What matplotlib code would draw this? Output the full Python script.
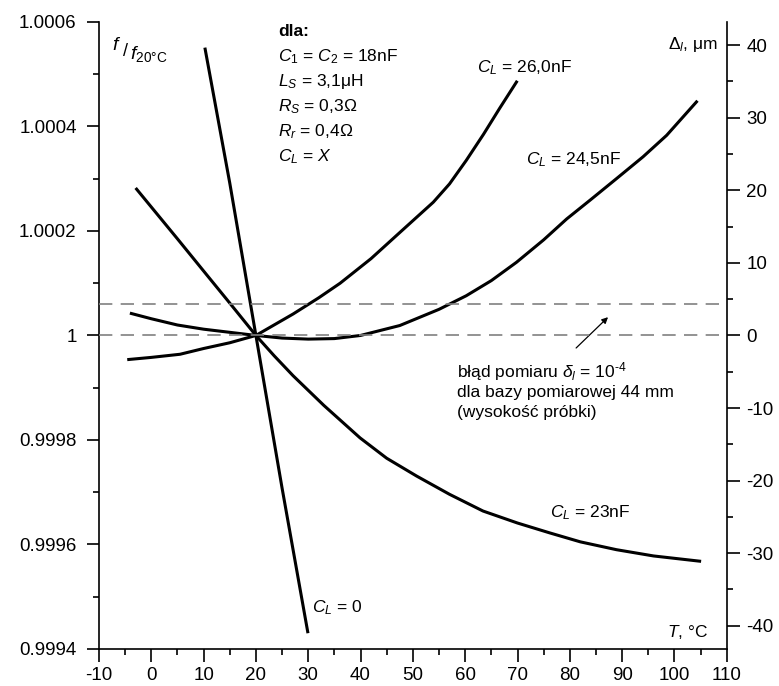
import numpy as np
import matplotlib
matplotlib.use("Agg")
import matplotlib.pyplot as plt
from matplotlib.ticker import FixedLocator, FixedFormatter, MultipleLocator

plt.rcParams['font.family'] = ['Liberation Sans', 'DejaVu Sans']
plt.rcParams['mathtext.fontset'] = 'custom'
plt.rcParams['mathtext.rm'] = 'Liberation Sans'
plt.rcParams['mathtext.it'] = 'Liberation Sans:italic'
plt.rcParams['mathtext.bf'] = 'Liberation Sans:bold'
plt.rcParams['axes.unicode_minus'] = False

# T [°C], f/f20°C
T_c0 = [10.3, 15.0, 20.0, 25.0, 29.9]
f_c0 = [1.000548, 1.000292, 1.0, 0.999708, 0.999433]

T_c23 = [-2.8, 5.0, 10.6, 15.0, 20.0, 23.5, 27.1, 33.0, 39.9, 45.0, 50.7, 57.0, 63.4,
         70.0, 76.2, 82.0, 88.9, 96.0, 104.8]
f_c23 = [1.00028, 1.000185, 1.000116, 1.000062, 1.0, 0.999961, 0.999923, 0.999866,
         0.999804, 0.999765, 0.999731, 0.999696, 0.999664, 0.999641, 0.999622,
         0.999605, 0.99959, 0.999578, 0.999568]

T_c245 = [-3.8, 0.0, 5.0, 10.0, 15.0, 20.0, 25.0, 30.0, 35.0, 40.0, 47.5, 55.0, 60.2,
          65.0, 69.8, 75.0, 79.4, 84.0, 88.9, 94.0, 98.5, 104.2]
f_c245 = [1.000042, 1.000032, 1.00002, 1.000012, 1.000006, 1.0, 0.999995, 0.999993,
          0.999994, 1.0, 1.000019, 1.00005, 1.000076, 1.000105, 1.00014, 1.000183,
          1.000223, 1.00026, 1.0003, 1.000342, 1.000383, 1.000447]

T_c26 = [-4.3, 0.0, 5.5, 10.0, 15.0, 20.0, 27.1, 32.0, 36.1, 42.0, 47.5, 53.9, 57.0,
         60.2, 63.5, 66.6, 69.8]
f_c26 = [0.999954, 0.999958, 0.999964, 0.999975, 0.999986, 1.0, 1.000041, 1.000072,
         1.0001, 1.000147, 1.000197, 1.000255, 1.00029, 1.000335, 1.000385, 1.000435,
         1.000485]

y_ticks = [0.9994, 0.9996, 0.9998, 1.0, 1.0002, 1.0004, 1.0006]
y_labels = ['0.9994', '0.9996', '0.9998', '1', '1.0002', '1.0004', '1.0006']
x_ticks = list(range(-10, 111, 10))
dl_ticks = list(range(-40, 41, 10))
err_um = 4.4  # 10^-4 * 44 mm

fig = plt.figure(figsize=(7.79, 6.86), dpi=100)
ax = fig.add_axes([0.127, 0.054, 0.806, 0.914])
ax2 = ax.twinx()

for T, f in [(T_c0, f_c0), (T_c23, f_c23), (T_c245, f_c245), (T_c26, f_c26)]:
    ax.plot(T, f, color='black', lw=2.2, solid_joinstyle='round')

ax.set_xlim(-10, 110)
ax.set_ylim(0.9994, 1.0006)
ax2.set_ylim(-43.2, 43.2)

ax2.axhline(0, color='#808080', lw=1.2, dashes=(8, 5))
ax2.axhline(err_um, color='#808080', lw=1.2, dashes=(8, 5))

ax.yaxis.set_major_locator(FixedLocator(y_ticks))
ax.yaxis.set_major_formatter(FixedFormatter(y_labels))
ax.yaxis.set_minor_locator(MultipleLocator(0.0001))
ax.xaxis.set_major_locator(FixedLocator(x_ticks))
ax.xaxis.set_minor_locator(MultipleLocator(5))
ax2.yaxis.set_major_locator(FixedLocator(dl_ticks))
ax2.yaxis.set_minor_locator(MultipleLocator(5))

for a in (ax, ax2):
    a.spines['top'].set_visible(False)
    for s in a.spines.values():
        s.set_linewidth(1.2)
    a.tick_params(which='major', direction='out', length=9, width=1.2, labelsize=13.5)
    a.tick_params(which='minor', direction='out', length=4.5, width=1.2)
ax.spines['right'].set_visible(False)
ax2.spines['left'].set_visible(False)
ax2.spines['bottom'].set_visible(False)
ax.tick_params(axis='y', pad=7)
ax.tick_params(axis='x', pad=4)
ax2.tick_params(axis='y', pad=5)

fs = 12.5
# f / f20°C
fig.text(112 / 779, 1 - 45 / 686, r'$f$', fontsize=14, ha='left', va='center')
fig.text(123 / 779, 1 - 52 / 686, '/', fontsize=13, ha='left', va='center')
fig.text(130 / 779, 1 - 54 / 686, r'$f_{\mathrm{20°C}}$', fontsize=14, ha='left', va='center')

ax.text(108.3, 1.000556, r'Δ$_l$, μm', fontsize=fs, ha='right', va='center')
ax.text(106.4, 0.999432, r'$T$, °C', fontsize=fs, ha='right', va='center')

ax.text(24.2, 1.000581, 'dla:', fontsize=fs, fontweight='bold', ha='left', va='center')
info = [r'$C_1$ = $C_2$ = 18nF', r'$L_S$ = 3,1μH',
        r'$R_S$ = 0,3Ω', r'$R_r$ = 0,4Ω', r'$C_L$ = $X$']
for i, s in enumerate(info):
    ax.text(24.2, 1.000581 - (i + 1) * 0.0000479, s, fontsize=fs, ha='left', va='center')

ax.text(62.2, 1.000512, r'$C_L$ = 26,0nF', fontsize=fs, ha='left', va='center')
ax.text(71.6, 1.000336, r'$C_L$ = 24,5nF', fontsize=fs, ha='left', va='center')
ax.text(76.2, 0.99966, r'$C_L$ = 23nF', fontsize=fs, ha='left', va='center')
ax.text(30.7, 0.99948, r'$C_L$ = 0', fontsize=fs, ha='left', va='center')

note = [r'błąd pomiaru $\delta_l$ = 10$^{\text{-}4}$', 'dla bazy pomiarowej 44 mm',
        '(wysokość próbki)']
for i, s in enumerate(note):
    ax.text(58.4, 0.99993 - i * 0.0000383, s, fontsize=fs, ha='left', va='center')

ax.annotate('', xy=(87.3, 1.000035), xytext=(81.2, 0.999976),
            arrowprops=dict(arrowstyle='-|>', color='black', lw=0.9,
                            mutation_scale=9, shrinkA=0, shrinkB=0))

fig.savefig('out.png', dpi=100)
